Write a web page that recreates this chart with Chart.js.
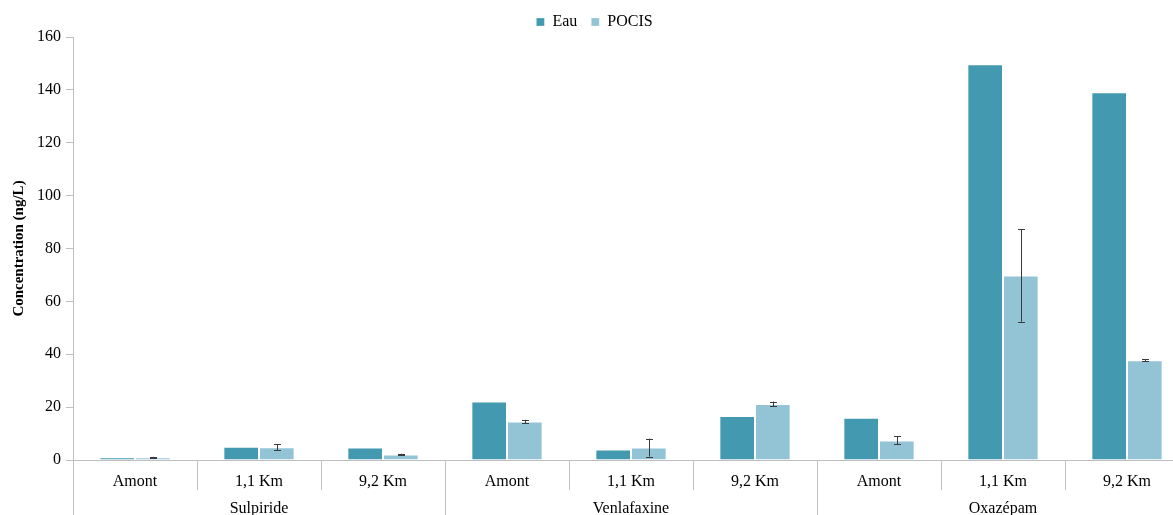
<!DOCTYPE html>
<html>
<head>
<meta charset="utf-8">
<script src="https://cdn.jsdelivr.net/npm/chart.js@4.4.1/dist/chart.umd.min.js"></script>
<style>
html,body{margin:0;padding:0;overflow:hidden;background:#fff;width:1173px;height:515px;}
#wrap{width:1189px;height:515px;position:relative;}
</style>
</head>
<body>
<div id="wrap"><canvas id="c" width="1189" height="515"></canvas></div>
<script>
const groups = ['Sulpiride', 'Venlafaxine', 'Oxazépam'];
const groupSizes = [3, 3, 3];
const categories = ['Amont', '1,1 Km', '9,2 Km', 'Amont', '1,1 Km', '9,2 Km', 'Amont', '1,1 Km', '9,2 Km'];
const eau = [1.0, 5.0, 4.7, 22.1, 4.0, 16.6, 16.0, 149.7, 139.1];
const pocis = [1.0, 4.8, 2.1, 14.6, 4.7, 21.2, 7.4, 69.8, 37.7];
const pocisErr = [0.2, 1.1, 0.3, 0.6, 3.4, 0.9, 1.5, 17.5, 0.4];
const yTicks = [0, 20, 40, 60, 80, 100, 120, 140, 160];

const FONT = 'Liberation Serif, Times New Roman, serif';
const AXIS = '#bfbfbf';

const legendHeightPlugin = {
  id: 'legendHeight',
  afterInit(chart) {
    const lg = chart.legend;
    if (lg) {
      const orig = lg.fit.bind(lg);
      lg.fit = function () { orig(); this.height = 37; };
    }
  }
};

const errorBars = {
  id: 'errorBars',
  afterDatasetsDraw(chart) {
    const ctx = chart.ctx;
    const ys = chart.scales.y;
    const meta = chart.getDatasetMeta(1);
    ctx.save();
    ctx.strokeStyle = '#3a3a3a';
    ctx.lineWidth = 1;
    meta.data.forEach((bar, i) => {
      const v = pocis[i], e = pocisErr[i];
      const x = Math.round(bar.x) + 0.5;
      const yt = ys.getPixelForValue(v + e);
      const yb = ys.getPixelForValue(v - e);
      ctx.beginPath();
      ctx.moveTo(x, yt); ctx.lineTo(x, yb);
      ctx.moveTo(x - 3.5, Math.round(yt) + 0.5); ctx.lineTo(x + 3.5, Math.round(yt) + 0.5);
      ctx.moveTo(x - 3.5, Math.round(yb) + 0.5); ctx.lineTo(x + 3.5, Math.round(yb) + 0.5);
      ctx.stroke();
    });
    ctx.restore();
  }
};

const groupAxis = {
  id: 'groupAxis',
  afterDraw(chart) {
    const ctx = chart.ctx;
    const xs = chart.scales.x;
    const n = categories.length;
    const w = (xs.right - xs.left) / n;
    const top = xs.top;
    ctx.save();
    ctx.strokeStyle = AXIS;
    ctx.lineWidth = 1;
    const groupBounds = [0];
    let acc = 0;
    groupSizes.forEach(s => { acc += s; groupBounds.push(acc); });
    for (let i = 0; i <= n; i++) {
      const x = Math.round(xs.left + i * w) + 0.5;
      const isGroup = groupBounds.includes(i);
      ctx.beginPath();
      ctx.moveTo(x, top);
      ctx.lineTo(x, isGroup ? 515 : 490);
      ctx.stroke();
    }
    ctx.fillStyle = '#000';
    ctx.font = '16px ' + FONT;
    ctx.textAlign = 'center';
    ctx.textBaseline = 'middle';
    groups.forEach((g, gi) => {
      const a = groupBounds[gi], b = groupBounds[gi + 1];
      const cx = xs.left + (a + b) / 2 * w;
      ctx.fillText(g, cx, 508.5);
    });
    ctx.restore();
  }
};

new Chart(document.getElementById('c'), {
  type: 'bar',
  data: {
    labels: categories,
    datasets: [
      { label: 'Eau', data: eau, backgroundColor: '#4299b0', borderColor: 'rgba(255,255,255,0.25)', borderWidth: 1 },
      { label: 'POCIS', data: pocis, backgroundColor: '#93c4d6', borderColor: 'rgba(255,255,255,0.25)', borderWidth: 1 }
    ]
  },
  options: {
    responsive: false,
    animation: false,
    devicePixelRatio: 1,
    categoryPercentage: 0.575,
    barPercentage: 1.0,
    layout: { padding: { left: 0, right: 0, top: 0, bottom: 0 } },
    plugins: {
      legend: {
        display: true,
        position: 'top',
        labels: {
          boxWidth: 8, boxHeight: 8,
          font: { family: FONT, size: 16 },
          color: '#000',
          padding: 14
        }
      },
      tooltip: { enabled: false },
      title: { display: false }
    },
    scales: {
      x: {
        offset: true,
        grid: { display: false, drawTicks: false },
        border: { display: true, color: AXIS, width: 1 },
        ticks: { font: { family: FONT, size: 16 }, color: '#000', padding: 12, maxRotation: 0, autoSkip: false },
        afterFit(s) { s.height = 55; }
      },
      y: {
        min: 0, max: 160,
        afterBuildTicks(s) { s.ticks = yTicks.map(v => ({ value: v })); },
        grid: { drawOnChartArea: false, drawTicks: true, tickLength: 7, color: AXIS },
        border: { display: true, color: AXIS, width: 1 },
        ticks: { font: { family: FONT, size: 16 }, color: '#000', padding: 5 },
        title: { display: true, text: 'Concentration (ng/L)', font: { family: FONT, size: 15, weight: 'bold' }, color: '#000', padding: { top: 10, bottom: 0 } },
        afterFit(s) { s.width = 73; }
      }
    }
  },
  plugins: [legendHeightPlugin, errorBars, groupAxis]
});
</script>
</body>
</html>
